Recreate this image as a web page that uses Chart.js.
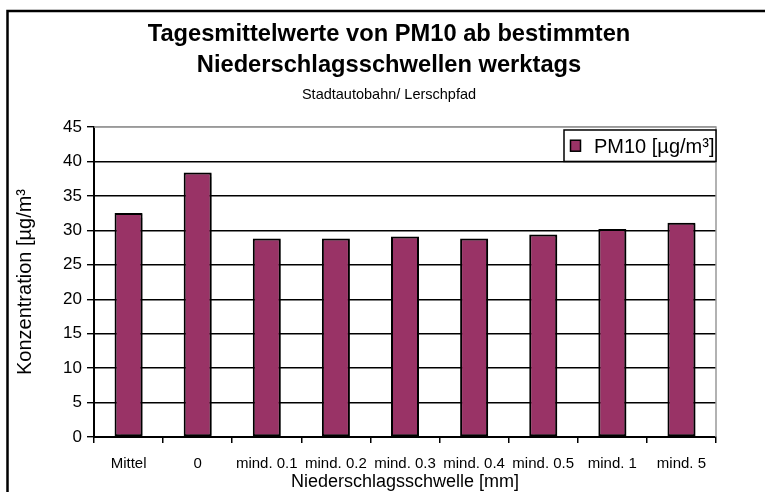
<!DOCTYPE html>
<html>
<head>
<meta charset="utf-8">
<script src="https://cdn.jsdelivr.net/npm/chart.js@4"></script>
<style>
  html, body { margin: 0; padding: 0; background: #fff; }
  #wrap { width: 765px; height: 492px; }
</style>
</head>
<body>
<div id="wrap"><canvas id="canvas" width="765" height="492"></canvas></div>
<script>
// Tagesmittelwerte PM10, Stadtautobahn / Lerschpfad
let categories = ['Mittel', '0', 'mind. 0.1', 'mind. 0.2', 'mind. 0.3', 'mind. 0.4', 'mind. 0.5', 'mind. 1', 'mind. 5'];
let pm10 = [32.5, 38.4, 28.8, 28.8, 29.1, 28.8, 29.4, 30.2, 31.1];
let seriesLabel = 'PM10 [µg/m³]';
let yTicks = [0, 5, 10, 15, 20, 25, 30, 35, 40, 45];

let fontFamily = "'Liberation Sans', Arial, Helvetica, sans-serif";
let barColor = '#993366';

// outer frame of the chart object (cut off at right and bottom)
let framePlugin = {
  id: 'frame',
  beforeDraw(chart) {
    let ctx = chart.ctx;
    ctx.save();
    ctx.strokeStyle = '#000';
    ctx.lineWidth = 2.5;
    ctx.strokeRect(7.5, 11, 900, 700);
    ctx.restore();
  },
  // grey border of the plot area (top + right)
  beforeDatasetsDraw(chart) {
    let a = chart.chartArea;
    let ctx = chart.ctx;
    ctx.save();
    ctx.strokeStyle = '#999';
    ctx.lineWidth = 1.5;
    ctx.beginPath();
    ctx.moveTo(a.left, a.top);
    ctx.lineTo(a.right, a.top);
    ctx.lineTo(a.right, a.bottom);
    ctx.stroke();
    ctx.restore();
    // light shadow on the bars
    ctx.save();
    ctx.shadowColor = 'rgba(0,0,0,0.35)';
    ctx.shadowOffsetX = 2;
    ctx.shadowOffsetY = 1;
    ctx.shadowBlur = 1;
  },
  afterDatasetsDraw(chart) {
    chart.ctx.restore();
  }
};

// boxed legend in the top right corner of the plot
let boxLegend = {
  id: 'boxLegend',
  afterDraw(chart) {
    let a = chart.chartArea;
    let ctx = chart.ctx;
    let ds = chart.data.datasets[0];
    let bottom = chart.scales.y.getPixelForValue(40);
    let w = 152;
    let left = a.right - w;
    let top = a.top + 3;
    ctx.save();
    ctx.fillStyle = '#fff';
    ctx.fillRect(left, top, w, bottom - top);
    ctx.strokeStyle = '#000';
    ctx.lineWidth = 1.5;
    ctx.strokeRect(left, top, w, bottom - top);
    let cy = (top + bottom) / 2;
    ctx.fillStyle = ds.backgroundColor;
    ctx.fillRect(left + 6.5, cy - 5.5, 10, 11);
    ctx.lineWidth = 1.5;
    ctx.strokeRect(left + 6.5, cy - 5.5, 10, 11);
    ctx.fillStyle = '#000';
    ctx.font = '20px ' + fontFamily;
    ctx.textBaseline = 'middle';
    ctx.textAlign = 'left';
    ctx.fillText(ds.label, left + 30, cy + 1.5);
    ctx.restore();
  }
};

let options = {
  type: 'bar',
  data: {
    labels: categories,
    datasets: [{
      label: seriesLabel,
      data: pm10,
      backgroundColor: barColor,
      borderColor: '#000',
      borderWidth: 2,
      borderSkipped: false,
      categoryPercentage: 1,
      barPercentage: 0.405
    }]
  },
  options: {
    responsive: false,
    animation: false,
    layout: { padding: { left: 13, right: 0, top: 0, bottom: 0 } },
    plugins: {
      legend: { display: false },
      tooltip: { enabled: false },
      title: {
        display: true,
        text: ['Tagesmittelwerte von PM10 ab bestimmten', 'Niederschlagsschwellen werktags'],
        color: '#000',
        font: { family: fontFamily, size: 23.7, weight: 'bold', lineHeight: 1.31 },
        padding: { top: 19, bottom: 5.5 }
      },
      subtitle: {
        display: true,
        text: 'Stadtautobahn/ Lerschpfad',
        color: '#000',
        font: { family: fontFamily, size: 14.5, lineHeight: 1.2 },
        padding: { top: 0, bottom: 23 }
      }
    },
    scales: {
      x: {
        offset: true,
        grid: {
          offset: true,
          drawOnChartArea: false,
          drawTicks: true,
          tickLength: 6,
          color: '#000',
          lineWidth: 1.5
        },
        border: { color: '#000', width: 2 },
        ticks: {
          color: '#000',
          font: { family: fontFamily, size: 15 },
          padding: 12,
          maxRotation: 0,
          autoSkip: false
        },
        title: {
          display: true,
          text: 'Niederschlagsschwelle [mm]',
          color: '#000',
          font: { family: fontFamily, size: 18 },
          padding: { top: 0, bottom: -1 }
        },
        afterFit(scale) { scale.height = 55; }
      },
      y: {
        min: 0,
        max: 45,
        afterBuildTicks(scale) {
          scale.ticks = yTicks.map(v => ({ value: v }));
        },
        grid: {
          color: c => (c.tick && c.tick.value === 45) ? '#999' : '#000',
          tickColor: '#000',
          lineWidth: 1.4,
          tickLength: 7
        },
        border: { color: '#000', width: 2 },
        ticks: {
          color: '#000',
          font: { family: fontFamily, size: 17 },
          padding: 5
        },
        title: {
          display: true,
          text: 'Konzentration [µg/m³',
          color: '#000',
          font: { family: fontFamily, size: 20 },
          padding: { top: 0.5, bottom: 0 }
        },
        afterFit(scale) { scale.width = 81; }
      },
      // empty right-hand axis, only keeps the space right of the plot
      yRight: {
        type: 'linear',
        position: 'right',
        display: true,
        grid: { display: false, drawTicks: false },
        border: { display: false },
        ticks: { display: false },
        afterFit(scale) { scale.width = 49; }
      }
    }
  },
  plugins: [framePlugin, boxLegend]
};

let chart = new Chart(document.getElementById('canvas'), options);
</script>
</body>
</html>
